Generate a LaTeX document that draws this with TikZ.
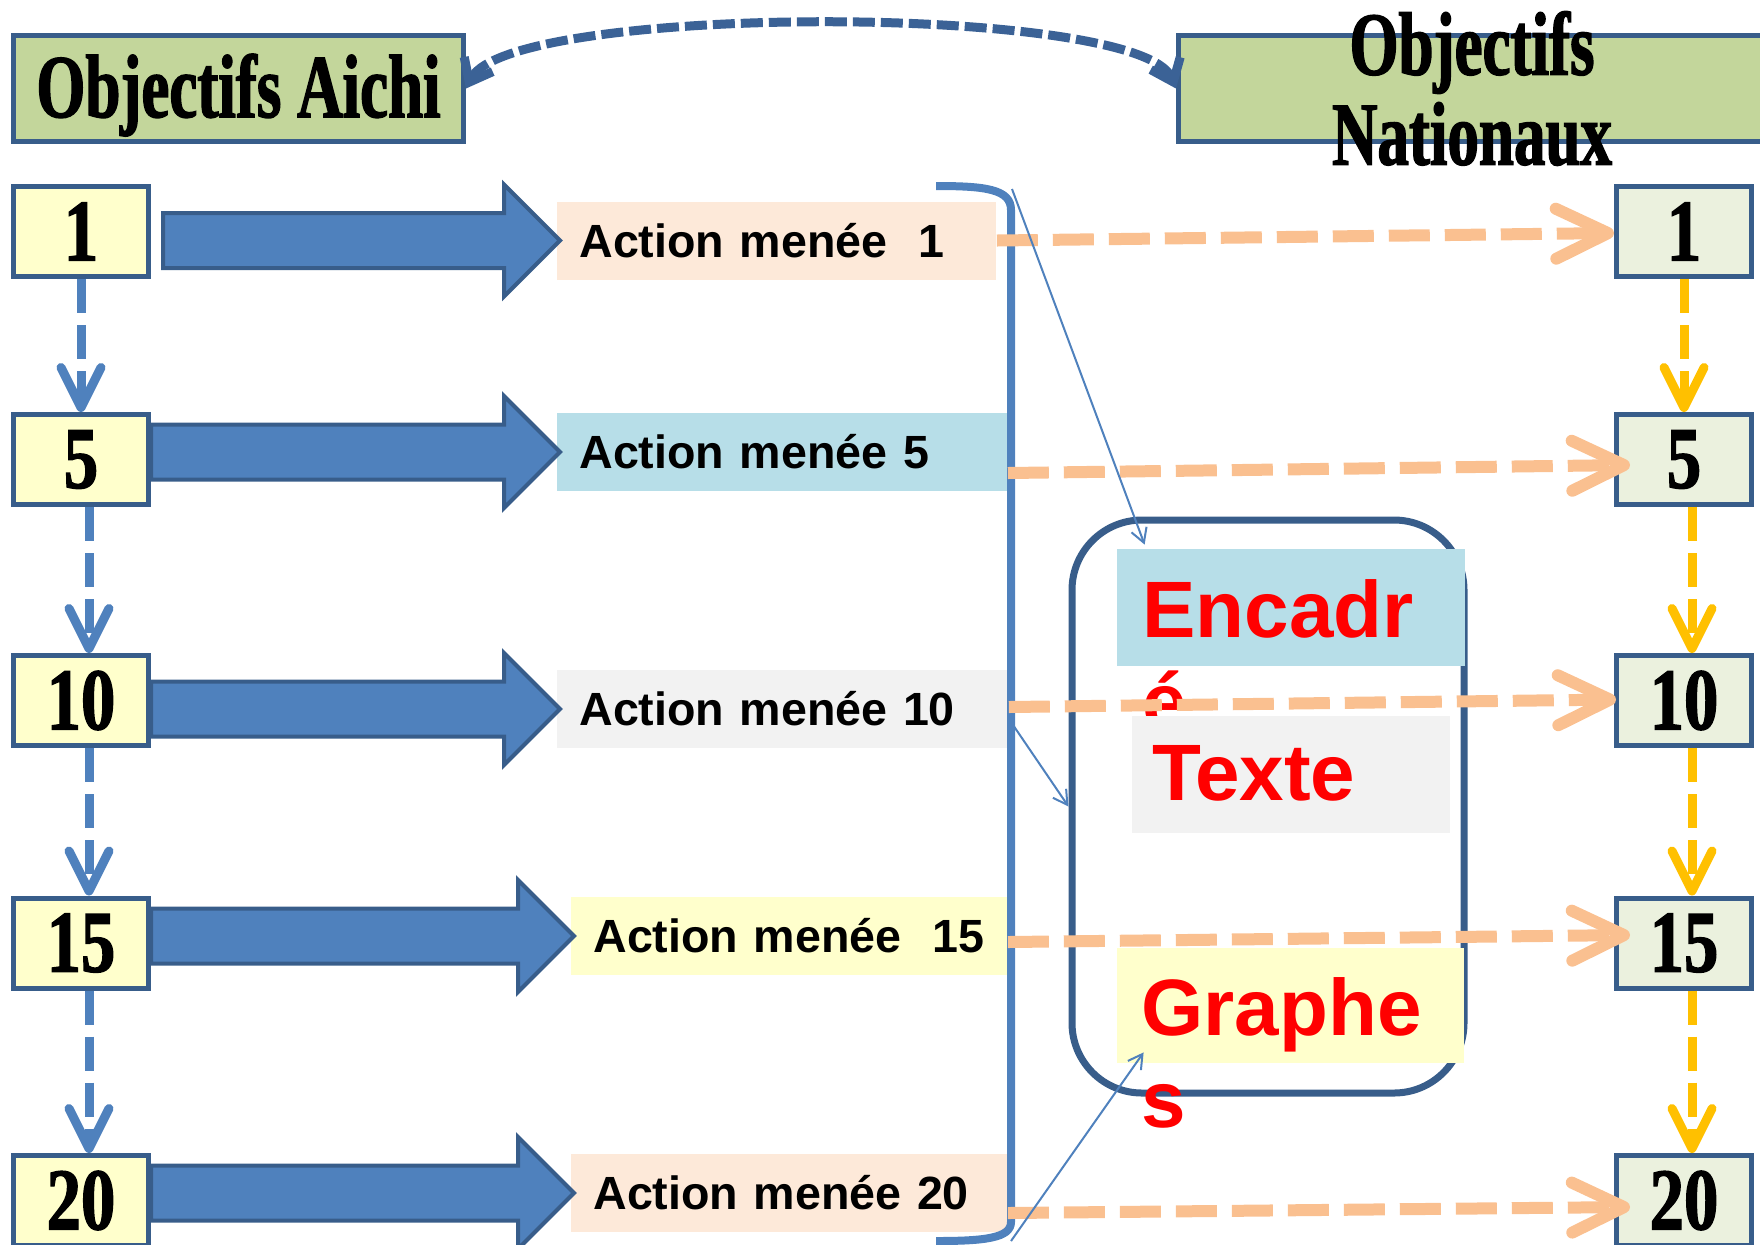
\documentclass[tikz,border=0pt]{standalone}
\usepackage{fontspec}
\setmainfont{Liberation Sans}
\newfontfamily\headfont[FakeStretch=0.7,BoldFeatures={FakeBold=1.5}]{Liberation Serif}
\newfontfamily\digitfont[FakeStretch=0.78,BoldFeatures={FakeBold=1.5}]{Liberation Serif}
\usetikzlibrary{arrows.meta,calc}
\definecolor{bordblue}{HTML}{385D8A}
\definecolor{fillblue}{HTML}{4F81BD}
\definecolor{topblue}{HTML}{3B6296}
\definecolor{headgreen}{HTML}{C3D69B}
\definecolor{leftyellow}{HTML}{FFFFCC}
\definecolor{rightgreen}{HTML}{EBF1DE}
\definecolor{peach}{HTML}{FDE9D9}
\definecolor{paleblue}{HTML}{B7DEE8}
\definecolor{boxgray}{HTML}{F2F2F2}
\definecolor{dashorange}{HTML}{FAC090}
\definecolor{dashyellow}{HTML}{FFC000}
\tikzset{
  headbox/.style={draw=bordblue, line width=2.5pt, fill=headgreen, minimum height=53pt, inner sep=0pt},
  headtext/.style={font=\headfont\bfseries\fontsize{45}{45}\selectfont},
  numbox/.style={draw=bordblue, line width=2.5pt, minimum width=67.5pt, minimum height=45pt, inner sep=0pt, font=\digitfont\bfseries\fontsize{44}{44}\selectfont},
  actbox/.style={anchor=west, minimum height=39pt, inner xsep=11pt, inner ysep=0pt, align=left, font=\bfseries\fontsize{23.3}{28}\selectfont},
  blockarr/.style={draw=bordblue, line width=2pt, fill=fillblue, line join=miter},
  panel/.style={minimum height=58.5pt, inner sep=0pt},
  redtext/.style={text=red, anchor=base west, inner sep=0pt, align=left, font=\bfseries\fontsize{40}{46}\selectfont},
  leftdash/.style={fillblue, line width=4.5pt, dash pattern=on 17pt off 6pt, -{Straight Barb[length=20pt,width=20pt,round]}},
  rightdash/.style={leftdash, dashyellow},
  orangedash/.style={dashorange, line width=6pt, dash pattern=on 20.5pt off 7.5pt, -{Straight Barb[length=26pt,width=25pt,round]}},
  thinarr/.style={fillblue, line width=1pt, -{Straight Barb[length=7pt,width=8pt]}},
}
\begin{document}
\begin{tikzpicture}[x=0.5pt,y=-0.5pt]
    \useasboundingbox (0,0) rectangle (1760,1244);
    \node[headbox, minimum width=225pt, headtext, text depth=3pt] (aichi) at (238.5,88.5) {Objectifs Aichi};
    \node[headbox, minimum width=293.5pt] (nat) at (1472,88.5) {};
    \node[headtext, align=center, inner sep=0pt] (nattext) at (nat.center) {Objectifs\\Nationaux};
    \draw[topblue, line width=4.5pt, dash pattern=on 11pt off 3pt,
      {Straight Barb[length=10pt,width=16pt]}-{Straight Barb[length=10pt,width=16pt]}]
      (aichi.east) .. controls (510,3) and (1140,3) .. (nat.west);
    \foreach \n/\y in {1/231.5,5/459.5,10/700.5,15/943,20/1200.5}
    {
    \node[numbox, fill=leftyellow] (a\n) at (81,\y) {\n};
    \node[numbox, fill=rightgreen] (n\n) at (1684,\y) {\n};
    }
    \foreach \n/\x/\y/\w/\col/\txt in {
      1/557/240.5/197.5/peach/{Action menée~ 1},
      5/557/452/203/paleblue/{Action menée 5},
      10/557/709/203.5/boxgray/{Action menée 10},
      15/571/936/196/leftyellow/{Action menée~ 15},
      20/571/1193/196/peach/{Action menée 20}}
    \node[actbox, fill=\col, text width=\w pt] (act\n) at (\x,\y) {\mbox{\txt}};
    \foreach \n/\g in {1/12,5/0,10/0,15/0,20/0}
    {
    \path (a\n.east |- act\n.west) ++(\g,0) coordinate (s) (act\n.west) ++(3,0) coordinate (t);
    \draw[blockarr] ($(s)+(0,-27.5)$) -- ($(t)+(-56,-27.5)$) -- ($(t)+(-56,-56)$) -- (t)
      -- ($(t)+(-56,56)$) -- ($(t)+(-56,27.5)$) -- ($(s)+(0,27.5)$) -- cycle;
    }
    \foreach \p/\q/\d in {1/5/0,5/10/8,10/15/8,15/20/8}
    {
    \draw[leftdash] ($(a\p.south)+(\d,0)$) -- ($(a\q.north)+(\d,0)$);
    \draw[rightdash] ($(n\p.south)+(\d,0)$) -- ($(n\q.north)+(\d,0)$);
    }
    \node[draw=bordblue, line width=3.5pt, rounded corners=35pt, minimum width=196pt, minimum height=286.5pt] (frame) at (1268,806.5) {};
    \node[panel, fill=paleblue, minimum width=174pt] (encbox) at (1291,607.5) {};
    \node[redtext] (enctext) at (1142,729) {Encadr\\é};
    \node[panel, fill=boxgray, minimum width=159pt] (txtbox) at (1291,774.5) {};
    \node[redtext] (txttext) at (1152,800) {Texte};
    \node[panel, fill=leftyellow, minimum width=173.5pt, minimum height=57.5pt] (grabox) at (1290.5,1005.5) {};
    \node[redtext] (gratext) at (1141,1127) {Graphe\\s};
    \draw[fillblue, line width=4pt] (936,186) .. controls (985,186) and (1011,189) .. (1011,210)
      -- (1011,1222) .. controls (1011,1238) and (985,1241) .. (936,1241);
    \coordinate (brtop) at (1012,189);
    \coordinate (brmid) at (1011,722);
    \coordinate (brbot) at (1011,1241);
    \foreach \n/\sy/\tx/\ty in {1/0/0/1.5,5/21/16/5.5,10/-2/2/-1,15/6/16/-8,20/20/16/6.5}
    \draw[orangedash] ($(act\n.east)+(0,\sy)$) -- ($(n\n.west)+(\tx,\ty)$);
    \draw[thinarr] (brtop) -- ($(encbox.north west)+(28,-4)$);
    \draw[thinarr] (brmid) -- (frame.west);
    \draw[thinarr] (brbot) -- ($(grabox.south west)+(27,-11)$);
  \end{tikzpicture}
\end{document}
